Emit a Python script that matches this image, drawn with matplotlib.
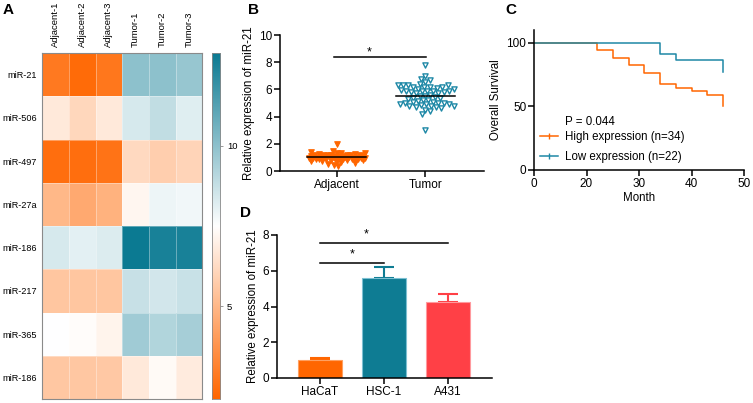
import matplotlib
matplotlib.use("Agg")
import matplotlib.pyplot as plt
import numpy as np
from matplotlib.colors import LinearSegmentedColormap, Normalize
from matplotlib.lines import Line2D

plt.rcParams['font.family'] = ['Liberation Sans', 'DejaVu Sans']

# ---- data ----
hm_rows = ['miR-21', 'miR-506', 'miR-497', 'miR-27a', 'miR-186', 'miR-217', 'miR-365', 'miR-186']
hm_cols = ['Adjacent-1', 'Adjacent-2', 'Adjacent-3', 'Tumor-1', 'Tumor-2', 'Tumor-3']
hm_vals = [
    [2.8, 2.3, 2.7, 10.0, 10.0, 9.8],
    [6.7, 6.1, 6.7, 8.4, 8.85, 8.2],
    [2.4, 2.4, 2.6, 6.15, 5.8, 6.0],
    [5.0, 4.5, 4.8, 7.2, 7.9, 7.8],
    [8.4, 8.1, 8.3, 12.9, 12.6, 12.6],
    [5.5, 5.5, 5.5, 8.75, 8.5, 8.7],
    [7.5, 7.4, 7.1, 9.6, 9.2, 9.45],
    [5.55, 5.55, 5.6, 6.7, 7.3, 6.8],
]

b_groups = ['Adjacent', 'Tumor']
adjacent = [1.95, 1.45, 1.4, 1.35, 1.3, 1.3, 1.25, 1.25, 1.2, 1.2, 1.2, 1.15, 1.15, 1.15, 1.15,
            1.1, 1.1, 1.1, 1.1, 1.1, 1.05, 1.05, 1.05, 1.05, 1.05, 1.0, 1.0, 1.0, 1.0, 1.0, 1.0,
            0.95, 0.95, 0.95, 0.95, 0.95, 0.9, 0.9, 0.9, 0.9, 0.9, 0.85, 0.85, 0.85, 0.85,
            0.8, 0.8, 0.8, 0.75, 0.75, 0.7, 0.65, 0.6, 0.55, 0.45, 0.4]
tumor = [7.8, 7.0, 6.8, 6.7, 6.55, 6.4, 6.3, 6.3, 6.3, 6.3, 6.2, 6.2, 6.15, 6.15, 6.1, 6.0, 6.0,
         5.95, 5.9, 5.9, 5.9, 5.85, 5.85, 5.8, 5.8, 5.75, 5.7, 5.6, 5.55, 5.5, 5.45, 5.4, 5.35,
         5.3, 5.25, 5.2, 5.15, 5.1, 5.05, 5.0, 5.0, 5.0, 4.95, 4.9, 4.9, 4.85, 4.8, 4.8, 4.75,
         4.7, 4.7, 4.6, 4.5, 4.4, 4.2, 3.0]

high_t = [0, 22, 25, 28, 31, 34, 37, 40, 43, 46]
high_s = [100, 94.1, 88.2, 82.4, 76.5, 67.6, 64.7, 61.8, 58.8, 50.0]
low_t = [0, 34, 37, 46]
low_s = [100, 90.9, 86.4, 77.3]

d_cells = ['HaCaT', 'HSC-1', 'A431']
d_mean = [1.0, 5.6, 4.25]
d_err = [0.12, 0.6, 0.45]

ORANGE = '#FF6600'
TEAL = '#0E7C93'
TEAL2 = '#1E88A6'
RED = '#FF4046'

W, H = 753, 403
fig = plt.figure(figsize=(W / 100, H / 100), dpi=100)


def px_axes(x0, y0, x1, y1):
    # pixel box (top-left origin) -> figure axes
    return fig.add_axes([x0 / W, 1 - y1 / H, (x1 - x0) / W, (y1 - y0) / H])


def style(ax):
    for s in ['top', 'right']:
        ax.spines[s].set_visible(False)
    for s in ['left', 'bottom']:
        ax.spines[s].set_linewidth(1.1)
    ax.tick_params(width=1.1, length=4, labelsize=8.5, pad=1.5)


# ---- A: heatmap ----
cmap = LinearSegmentedColormap.from_list('ow', [ORANGE, '#FFFFFF', '#0B7A92'])
norm = Normalize(vmin=2.1, vmax=12.9)
axA = px_axes(42.3, 53, 202.3, 399)
axA.pcolormesh(np.array(hm_vals), cmap=cmap, norm=norm, edgecolors=(1, 1, 1, 0.35), linewidth=0.5)
axA.set_xlim(0, len(hm_cols))
axA.set_ylim(len(hm_rows), 0)
axA.set_xticks(np.arange(len(hm_cols)) + 0.5)
axA.set_xticklabels(hm_cols, rotation=90, fontsize=6.8)
axA.xaxis.tick_top()
axA.set_yticks(np.arange(len(hm_rows)) + 0.5)
axA.set_yticklabels(hm_rows, fontsize=6.6)
axA.tick_params(length=0, pad=4)
for s in axA.spines.values():
    s.set_color('#8a8a8a')
    s.set_linewidth(0.8)

axCb = px_axes(211.7, 53, 220, 399)
grad = np.linspace(norm.vmin, norm.vmax, 256).reshape(-1, 1)
axCb.imshow(grad, aspect='auto', cmap=cmap, norm=norm, origin='lower',
            extent=[0, 1, norm.vmin, norm.vmax])
axCb.set_xticks([])
axCb.yaxis.tick_right()
axCb.set_yticks([5, 10])
axCb.tick_params(length=2, width=0.6, color='#888888', labelsize=6.8, pad=3)
for s in axCb.spines.values():
    s.set_color('#8a8a8a')
    s.set_linewidth(0.6)

fig.text(3 / W, 1 - 3 / H, 'A', fontsize=11, fontweight='bold', va='top')


# ---- B: scatter ----
def swarm(vals, ppu, d, maxw):
    vals = np.asarray(vals, float)
    med = np.median(vals)
    order = np.argsort(np.abs(vals - med), kind='stable')
    placed = []
    offs = np.zeros(len(vals))
    cands = [0.0]
    for k in range(1, int(maxw) + 1):
        cands += [k, -k]
    for i in order:
        y = vals[i] * ppu
        best, bestd = 0.0, -1
        for c in cands:
            if placed:
                p = np.array(placed)
                md = np.min(np.hypot(p[:, 0] - c, p[:, 1] - y))
            else:
                md = 1e9
            if md >= d:
                best = c
                break
            if md > bestd:
                best, bestd = c, md
        placed.append((best, y))
        offs[i] = best
    return offs


axB = px_axes(280, 35, 484, 171)
style(axB)
xppu = 88.5
yppu = 13.6
offs = swarm(adjacent, yppu, 4.0, 28) / xppu
axB.scatter(offs, adjacent, marker='v', s=16, facecolors=ORANGE, edgecolors=ORANGE,
            linewidths=0.8, zorder=3)
offs = swarm(tumor, yppu, 4.6, 28) / xppu
axB.scatter(1 + offs, tumor, marker='v', s=14, facecolors='white', edgecolors=TEAL2,
            linewidths=1.0, zorder=3)
for i, vals in enumerate([adjacent, tumor]):
    m = np.mean(vals)
    axB.plot([i - 0.33, i + 0.33], [m, m], color='black', lw=1.1, zorder=4)
axB.set_xlim(-0.64, 1.66)
axB.set_ylim(0, 10)
axB.set_yticks([0, 2, 4, 6, 8, 10])
axB.set_xticks([0, 1])
axB.set_xticklabels(b_groups)
axB.set_ylabel('Relative expression of miR-21', fontsize=8.3, labelpad=3)
axB.plot([-0.03, 1.01], [8.4, 8.4], color='black', lw=1.1, clip_on=False)
axB.text(0.37, 8.75, '*', ha='center', va='center', fontsize=9)
fig.text(248 / W, 1 - 3 / H, 'B', fontsize=11, fontweight='bold', va='top')

# ---- C: survival ----
axC = px_axes(534, 30, 744, 170)
style(axC)
axC.plot(high_t, high_s, drawstyle='steps-post', color=ORANGE, lw=1.1)
axC.plot(low_t, low_s, drawstyle='steps-post', color=TEAL2, lw=1.1)
axC.set_xlim(10, 50)
axC.set_ylim(0, 110)
axC.set_xticks([10, 20, 30, 40, 50])
axC.set_xticklabels(['0', '20', '30', '40', '50'])
axC.set_yticks([0, 50, 100])
axC.set_xlabel('Month', fontsize=8.3, labelpad=2)
axC.set_ylabel('Overall Survival', fontsize=8.3, labelpad=3)
axC.text(0.146, 0.345, 'P = 0.044', transform=axC.transAxes, fontsize=8.3, va='center')
handles = [Line2D([0], [0], color=ORANGE, lw=1.1, marker='|', markersize=4),
           Line2D([0], [0], color=TEAL2, lw=1.1, marker='|', markersize=4)]
axC.legend(handles, ['High expression (n=34)', 'Low expression (n=22)'], loc='upper left',
           bbox_to_anchor=(0.03, 0.28), frameon=False, fontsize=8.3, handlelength=1.5,
           handletextpad=0.6, borderpad=0, borderaxespad=0, labelspacing=0.75)
fig.text(505 / W, 1 - 3 / H, 'C', fontsize=11, fontweight='bold', va='top')

# ---- D: bars ----
axD = px_axes(277, 235, 492, 378)
style(axD)
xd = np.arange(len(d_cells))
cols = [ORANGE, TEAL, RED]
edges = ['#FFA060', '#7CC0D2', '#FF9A9E']
axD.bar(xd, d_mean, width=0.69, color=cols, edgecolor=edges, linewidth=0.8, zorder=2)
for x, m, e, c in zip(xd, d_mean, d_err, cols):
    axD.errorbar(x, m, yerr=[[0], [e]], color=c, capsize=7.5, elinewidth=1.5,
                 capthick=1.5, zorder=1)
axD.set_xlim(-0.67, 2.69)
axD.set_ylim(0, 8)
axD.set_yticks([0, 2, 4, 6, 8])
axD.set_xticks(xd)
axD.set_xticklabels(d_cells)
axD.set_ylabel('Relative expression of miR-21', fontsize=8.3, labelpad=3)
axD.plot([0, 2], [7.58, 7.58], color='black', lw=1.1, clip_on=False)
axD.plot([0, 1], [6.46, 6.46], color='black', lw=1.1, clip_on=False)
axD.text(0.72, 8.05, '*', ha='center', va='center', fontsize=9, clip_on=False)
axD.text(0.5, 6.9, '*', ha='center', va='center', fontsize=9)
fig.text(240 / W, 1 - 206 / H, 'D', fontsize=11, fontweight='bold', va='top')

fig.savefig('out.png', dpi=100)
